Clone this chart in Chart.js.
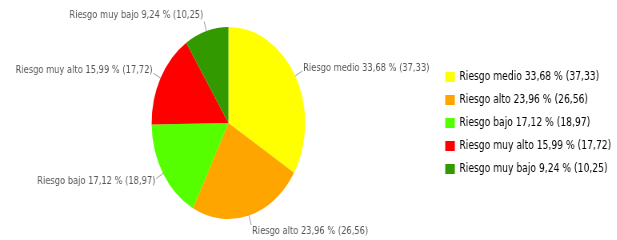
<!DOCTYPE html>
<html>
<head>
<meta charset="utf-8">
<script src="https://cdn.jsdelivr.net/npm/chart.js@4"></script>
<style>
  html, body { margin: 0; padding: 0; background: #fff; overflow: hidden; }
  #wrap { width: 774px; height: 240px; transform: scaleX(0.8); transform-origin: 0 0; }
</style>
</head>
<body>
<div id="wrap"><canvas id="pizzaChart"></canvas></div>
<script>
const categorias = ["Riesgo medio", "Riesgo alto", "Riesgo bajo", "Riesgo muy alto", "Riesgo muy bajo"];
const valores = [37.33, 26.56, 18.97, 17.72, 10.25];
const porcentajes = [33.68, 23.96, 17.12, 15.99, 9.24];
const cores = ["#FFFF00", "#FFA500", "#55FF00", "#FF0000", "#339900"];

const fmt = n => n.toFixed(2).replace(".", ",");
const rotulo = i => `${categorias[i]} ${fmt(porcentajes[i])} % (${fmt(valores[i])})`;

const familia = "'DejaVu Sans', Verdana, sans-serif";

// rótulos de fora com linha
const rotulosFora = {
  id: "rotulosFora",
  afterDraw(chart) {
    const ctx = chart.ctx;
    const meta = chart.getDatasetMeta(0);
    ctx.save();
    ctx.font = `10.4px ${familia}`;
    ctx.fillStyle = "#555";
    ctx.strokeStyle = "#999";
    ctx.lineWidth = 1;
    ctx.textBaseline = "middle";
    meta.data.forEach((arc, i) => {
      const { x, y, startAngle, endAngle, outerRadius } = arc.getProps(["x", "y", "startAngle", "endAngle", "outerRadius"], true);
      const mid = (startAngle + endAngle) / 2;
      const cos = Math.cos(mid), sin = Math.sin(mid);
      const x0 = x + cos * outerRadius, y0 = y + sin * outerRadius;
      const x1 = x + cos * (outerRadius + 10), y1 = y + sin * (outerRadius + 10);
      ctx.beginPath();
      ctx.moveTo(x0, y0);
      ctx.lineTo(x1, y1);
      ctx.stroke();
      const direita = cos >= 0;
      ctx.textAlign = direita ? "left" : "right";
      ctx.fillText(rotulo(i), x1 + (direita ? 1 : -1), y1 + sin * 6);
    });
    ctx.restore();
  }
};

new Chart(document.getElementById("pizzaChart"), {
  type: "pie",
  data: {
    labels: categorias,
    datasets: [{
      data: valores,
      backgroundColor: cores,
      borderWidth: 0
    }]
  },
  options: {
    responsive: true,
    maintainAspectRatio: false,
    animation: false,
    layout: { padding: { top: 27, bottom: 21, left: 26, right: 0 } },
    plugins: {
      tooltip: { enabled: false },
      legend: {
        position: "right",
        labels: {
          boxWidth: 12,
          boxHeight: 10,
          padding: 11.5,
          color: "#555",
          font: { family: familia, size: 11.5 },
          generateLabels: chart => categorias.map((c, i) => ({
            text: rotulo(i),
            fillStyle: cores[i],
            strokeStyle: cores[i],
            lineWidth: 0,
            index: i
          }))
        }
      }
    }
  },
  plugins: [rotulosFora]
});
</script>
</body>
</html>
